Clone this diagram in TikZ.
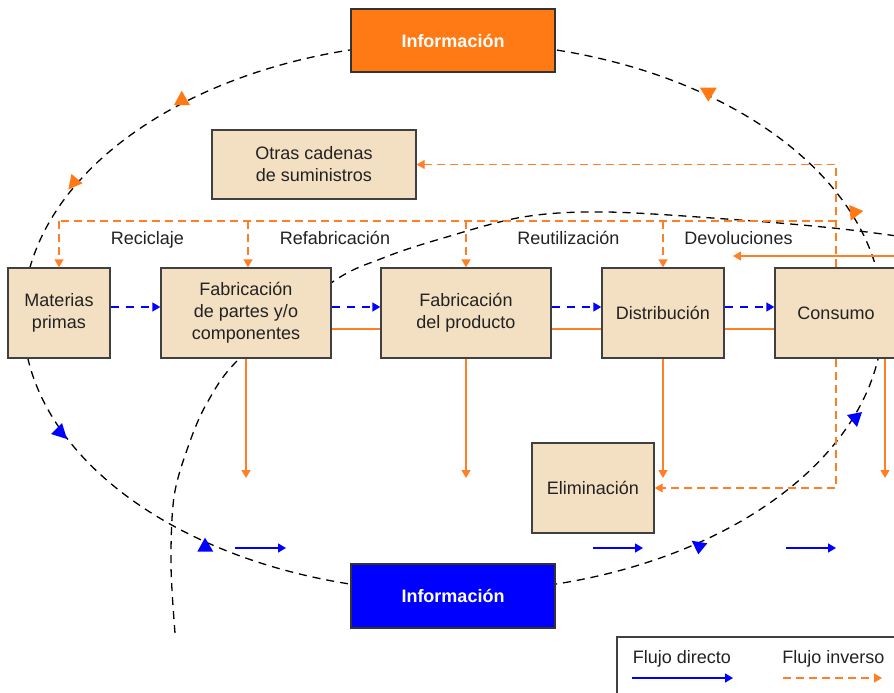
\documentclass[tikz,border=0pt]{standalone}
\usepackage{fontspec}
\setmainfont{Liberation Sans}
\usetikzlibrary{arrows.meta}
\definecolor{ora}{HTML}{FF7A14}
\definecolor{oraline}{HTML}{FF7F27}
\definecolor{tanfill}{HTML}{F3E0C2}
\definecolor{blu}{HTML}{0000FF}
\definecolor{edge}{HTML}{404040}
\definecolor{ink}{HTML}{222222}

\begin{document}
\begin{tikzpicture}[x=1pt,y=-1pt,
  font=\fontsize{18}{22}\selectfont,
  stage/.style={draw=edge, line width=1.4pt, fill=tanfill, text=ink,
    align=center, inner sep=0pt, minimum height=90pt},
  infobox/.style={draw=edge!80!black, line width=1.8pt, text=white,
    font=\fontsize{18}{22}\selectfont\bfseries, inner sep=0pt,
    minimum width=204pt, minimum height=63pt},
  lbl/.style={text=ink, anchor=base, inner sep=0pt},
  infoline/.style={black, line width=1.3pt, dash pattern=on 8pt off 6pt},
  fwd/.style={blu, line width=1.4pt, -{Triangle[length=8pt,width=9pt]}},
  fwddash/.style={fwd, dash pattern=on 8pt off 7pt},
  inv/.style={oraline, line width=1.4pt},
  invtip/.style={inv, -{Triangle[length=8pt,width=9pt]}},
  invdash/.style={inv, dash pattern=on 8pt off 5pt},
  invdashtip/.style={invdash, -{Triangle[length=8pt,width=9pt]}},
  headora/.style={fill=ora},
  headblu/.style={fill=blu}
]
\useasboundingbox (0,0) rectangle (894,693);

% information cycles (drawn first so the boxes cover them)
\draw[infoline] (453,317) ellipse [x radius=430pt, y radius=275pt];
\draw[infoline] plot[smooth, tension=0.55] coordinates {(175,633) (171,565) (174,497)
  (188,447) (207,403) (240,358) (331,283) (383,258) (440,239) (523,217) (607,212)
  (740,220) (833,228) (897,236)};

% boxes
\node[infobox, fill=ora] (itop) at (453,40.5) {Información};
\node[infobox, fill=blu, minimum height=64pt] (ibot) at (453,596) {Información};
\node[stage, minimum width=204pt, minimum height=69pt] (otras) at (314,164.5)
  {Otras cadenas\\de suministros};
\node[stage, minimum width=102pt] (mp) at (59,313) {Materias\\primas};
\node[stage, minimum width=170pt] (fp) at (246,313) {Fabricación\\de partes y/o\\componentes};
\node[stage, minimum width=170pt] (fpr) at (466,313) {Fabricación\\del producto};
\node[stage, minimum width=122pt] (dist) at (663,313) {Distribución};
\node[stage, minimum width=122pt] (cons) at (836,313) {Consumo};
\node[stage, minimum width=122pt] (elim) at (593,488) {Eliminación};

% labels of the reverse channels
\node[lbl] (lrec) at (147.5,244.5) {Reciclaje};
\node[lbl] (lref) at (335,244.5) {Refabricación};
\node[lbl] (lreu) at (568.5,244.5) {Reutilización};
\node[lbl] (ldev) at (738.5,244.5) {Devoluciones};

% direct flow between stages
\draw[fwddash] ([yshift=6pt]mp.east) -- ([yshift=6pt]fp.west);
\draw[fwddash] ([yshift=6pt]fp.east) -- ([yshift=6pt]fpr.west);
\draw[fwddash] ([yshift=6pt]fpr.east) -- ([yshift=6pt]dist.west);
\draw[fwddash] ([yshift=6pt]dist.east) -- ([yshift=6pt]cons.west);

% solid orange links between stages
\draw[inv] ([yshift=-16pt]fp.east) -- ([yshift=-16pt]fpr.west);
\draw[inv] ([yshift=-16pt]fpr.east) -- ([yshift=-16pt]dist.west);
\draw[inv] ([yshift=-16pt]dist.east) -- ([yshift=-16pt]cons.west);

% solid orange outflows below the stages
\coordinate (o1) at (246,478);
\coordinate (o2) at (466,478);
\coordinate (o3) at (663,478);
\coordinate (o4) at (885,478);
\draw[invtip] (fp.south) -- (o1);
\draw[invtip] (fpr.south) -- (o2);
\draw[invtip] (dist.south) -- (o3);
\draw[invtip] (cons.south -| o4) -- (o4);

% returns entering from the right
\coordinate (rin) at (897,256);
\coordinate (rout) at (733,256);
\draw[invtip] (rin) -- (rout);

% reverse flow network
\coordinate (up) at (836,164.5);
\coordinate (mid) at (836,221);
\coordinate (low) at (836,488);
\coordinate (west) at (mp.north |- mid);
\draw[invdashtip] (cons.north) -- (up) -- (otras.east);
\draw[invdash] (mid) -- (west);
\draw[invdashtip] (west) -- (mp.north);
\draw[invdashtip] ([xshift=2pt]fp.north |- mid) -- ([xshift=2pt]fp.north);
\draw[invdashtip] (fpr.north |- mid) -- (fpr.north);
\draw[invdashtip] (dist.north |- mid) -- (dist.north);
\draw[invdashtip] (cons.south) -- (low) -- (elim.east);

% short direct-flow arrows along the bottom
\coordinate (d1a) at (235,548); \coordinate (d1b) at (286,548);
\coordinate (d2a) at (593,548); \coordinate (d2b) at (643,548);
\coordinate (d3a) at (786,548); \coordinate (d3b) at (836,548);
\draw[fwd] (d1a) -- (d1b);
\draw[fwd] (d2a) -- (d2b);
\draw[fwd] (d3a) -- (d3b);

% heads on the information cycle
\fill[headora] (181.7,90.7) -- (190,105) -- (174,105) -- cycle;
\fill[headora] (71.5,174) -- (82.5,183.3) -- (68.3,189.5) -- cycle;
\fill[headora] (700,87.7) -- (716.7,87.7) -- (708.3,101.7) -- cycle;
\fill[headora] (849.3,205) -- (863.3,211) -- (850.7,220.7) -- cycle;
\fill[headblu] (51,434) -- (62,423) -- (67,439) -- cycle;
\fill[headblu] (205,537.7) -- (213.3,551.7) -- (197.3,551.7) -- cycle;
\fill[headblu] (691.7,540.7) -- (707.3,543.3) -- (698.3,554.3) -- cycle;
\fill[headblu] (847,415) -- (862,412) -- (857,427) -- cycle;

% legend
\node[draw=edge, line width=1.4pt, fill=white, minimum width=280pt,
  minimum height=62pt, inner sep=0pt] (leg) at (757,668) {};
\node[lbl] (ldir) at (682,663) {Flujo directo};
\node[lbl] (linv) at (833.5,663) {Flujo inverso};
\coordinate (ka) at (632,678); \coordinate (kb) at (733,678);
\coordinate (kc) at (783,678); \coordinate (kd) at (882,678);
\draw[fwd] (ka) -- (kb);
\draw[invdashtip] (kc) -- (kd);
\end{tikzpicture}
\end{document}
